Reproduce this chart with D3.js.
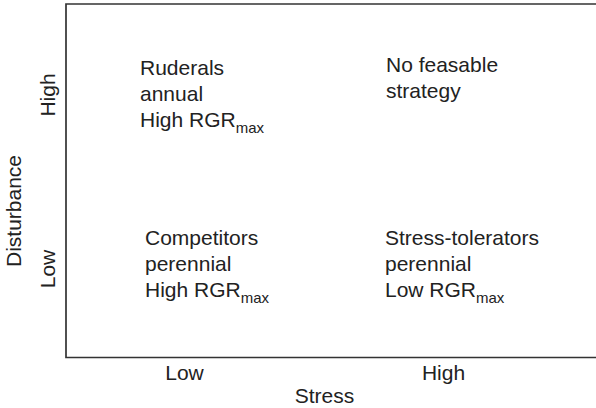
<!DOCTYPE html>
<html>
<head>
<meta charset="utf-8">
<script src="https://cdn.jsdelivr.net/npm/d3@7"></script>
<style>
  body { margin: 0; background: #fff; }
  text { font-family: "Liberation Sans", Arial, sans-serif; fill: #222; }
</style>
</head>
<body>
<svg width="596" height="408"></svg>
<script>
// categories
var stressLevels = ["Low", "High"];
var disturbanceLevels = ["High", "Low"];

// quadrant texts (a "|" splits off the subscript)
var quadStress = ["Low", "High", "Low", "High"];
var quadDisturbance = ["High", "High", "Low", "Low"];
var quadLines = [
    ["Ruderals", "annual", "High RGR|max"],
    ["No feasable", "strategy"],
    ["Competitors", "perennial", "High RGR|max"],
    ["Stress-tolerators", "perennial", "Low RGR|max"]
];

var svg = d3.select("svg");

var frameLeft = 66, frameTop = 4, frameRight = 596, frameBottom = 357.5;

var x = d3.scalePoint().domain(stressLevels).range([184, 443]);
var y = d3.scalePoint().domain(disturbanceLevels).range([95, 269]);

// frame: top, left and bottom (open on the right)
svg.append("path")
    .attr("d", "M" + frameRight + "," + frameTop + "H" + frameLeft + "V" + frameBottom + "H" + frameRight)
    .attr("fill", "none")
    .attr("stroke", "#333")
    .attr("stroke-width", 1.7);

// x axis labels
var xAxis = svg.append("g")
    .attr("transform", "translate(0," + frameBottom + ")")
    .call(d3.axisBottom(x).tickSize(0).tickPadding(7.5));
xAxis.select(".domain").remove();
xAxis.selectAll("text")
    .style("font-size", "21px")
    .style("font-family", "'Liberation Sans', Arial, sans-serif")
    .attr("fill", "#222");

svg.append("text")
    .attr("x", 324.5)
    .attr("y", 403)
    .attr("text-anchor", "middle")
    .style("font-size", "21px")
    .text("Stress");

// y labels (rotated)
svg.selectAll(".ylab")
    .data(disturbanceLevels)
    .enter().append("text")
    .attr("class", "ylab")
    .attr("transform", function(d) { return "translate(55," + y(d) + ") rotate(-90)"; })
    .attr("text-anchor", "middle")
    .style("font-size", "21px")
    .text(function(d) { return d; });

svg.append("text")
    .attr("transform", "translate(21,211) rotate(-90)")
    .attr("text-anchor", "middle")
    .style("font-size", "21px")
    .text("Disturbance");

// quadrant texts
var nudge = {
    "Low-High": [-44, -20],
    "High-High": [-57, -23],
    "Low-Low": [-39, -24],
    "High-Low": [-58, -24]
};
var lineGap = 26;

quadLines.forEach(function(lines, i) {
    var key = quadStress[i] + "-" + quadDisturbance[i];
    var x0 = x(quadStress[i]) + nudge[key][0];
    var y0 = y(quadDisturbance[i]) + nudge[key][1];
    var t = svg.append("text")
        .attr("x", x0)
        .attr("y", y0)
        .style("font-size", "21px");
    lines.forEach(function(line, j) {
        var parts = line.split("|");
        t.append("tspan")
            .attr("x", x0)
            .attr("y", y0 + j * lineGap)
            .text(parts[0]);
        if (parts[1]) {
            t.append("tspan")
                .attr("dy", 5.5)
                .style("font-size", "15px")
                .text(parts[1]);
        }
    });
});
</script>
</body>
</html>
